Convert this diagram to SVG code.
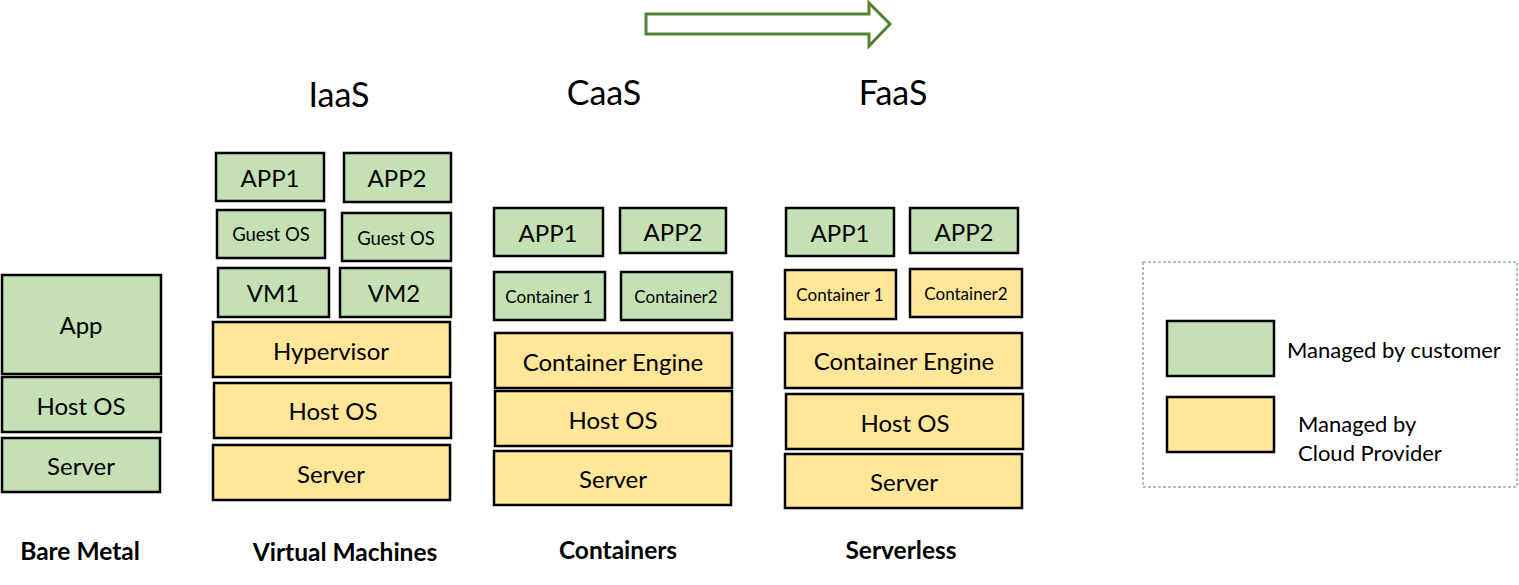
<svg xmlns="http://www.w3.org/2000/svg" width="1519" height="585" viewBox="0 0 1519 585">
<style>
.g{fill:#C5E0B4;stroke:#000;stroke-width:2.5}
.y{fill:#FFE699;stroke:#000;stroke-width:2.5}
text{font-family:Lato,"Liberation Sans",sans-serif;fill:#000}
.t{font-size:24px;text-anchor:middle;dominant-baseline:central}
.s{font-size:18.5px;text-anchor:middle;dominant-baseline:central}
.xs{font-size:17px;text-anchor:middle;dominant-baseline:central}
.h{font-size:34px;text-anchor:middle}
.b{font-size:24.5px;font-weight:bold;text-anchor:middle}
.l{font-size:22px}
</style>
<rect width="1519" height="585" fill="#fff"/>
<g id="connectors">
<path d="M646,14 H869 V3 L890,24 L869,46 V34 H646 Z" fill="#fff" stroke="#548235" stroke-width="3" stroke-linejoin="miter"/>
</g>
<g id="headers">
<text class="h" x="339" y="107">IaaS</text>
<text class="h" x="604" y="105">CaaS</text>
<text class="h" x="893" y="105">FaaS</text>
</g>
<g id="bare-metal">
<g id="bm-app"><rect class="g" x="2" y="275" width="159" height="99"/><text class="t" x="81" y="324">App</text></g>
<g id="bm-hostos"><rect class="g" x="2" y="377" width="159" height="55"/><text class="t" x="81" y="405">Host OS</text></g>
<g id="bm-server"><rect class="g" x="2" y="438" width="158" height="54"/><text class="t" x="81" y="465">Server</text></g>
<text class="b" x="80" y="560">Bare Metal</text>
</g>
<g id="vm">
<g id="vm-app1"><rect class="g" x="216" y="153" width="108" height="48"/><text class="t" x="270" y="177">APP1</text></g>
<g id="vm-app2"><rect class="g" x="344" y="153" width="107" height="49"/><text class="t" x="397" y="177">APP2</text></g>
<g id="vm-guest1"><rect class="g" x="217" y="210" width="108" height="48"/><text class="s" x="271" y="234">Guest OS</text></g>
<g id="vm-guest2"><rect class="g" x="342" y="213" width="109" height="48"/><text class="s" x="396" y="238">Guest OS</text></g>
<g id="vm-vm1"><rect class="g" x="218" y="268" width="111" height="49"/><text class="t" x="273" y="292">VM1</text></g>
<g id="vm-vm2"><rect class="g" x="340" y="268" width="111" height="49"/><text class="t" x="394" y="292">VM2</text></g>
<g id="vm-hyper"><rect class="y" x="213" y="322" width="237" height="55"/><text class="t" x="331" y="350">Hypervisor</text></g>
<g id="vm-hostos"><rect class="y" x="214" y="383" width="237" height="55"/><text class="t" x="333" y="410">Host OS</text></g>
<g id="vm-server"><rect class="y" x="213" y="445" width="237" height="55"/><text class="t" x="331" y="473">Server</text></g>
<text class="b" x="345" y="561">Virtual Machines</text>
</g>
<g id="containers">
<g id="c-app1"><rect class="g" x="494" y="208" width="109" height="48"/><text class="t" x="548" y="232">APP1</text></g>
<g id="c-app2"><rect class="g" x="620" y="208" width="106" height="45"/><text class="t" x="673" y="231">APP2</text></g>
<g id="c-cont1"><rect class="g" x="494" y="272" width="111" height="48"/><text class="xs" x="549" y="296">Container 1</text></g>
<g id="c-cont2"><rect class="g" x="621" y="272" width="111" height="48"/><text class="xs" x="676" y="296">Container2</text></g>
<g id="c-engine"><rect class="y" x="495" y="333" width="237" height="55"/><text class="t" x="613" y="361">Container Engine</text></g>
<g id="c-hostos"><rect class="y" x="495" y="391" width="237" height="55"/><text class="t" x="613" y="419">Host OS</text></g>
<g id="c-server"><rect class="y" x="494" y="451" width="237" height="54"/><text class="t" x="613" y="478">Server</text></g>
<text class="b" x="618" y="559">Containers</text>
</g>
<g id="serverless">
<g id="f-app1"><rect class="g" x="786" y="208" width="108" height="48"/><text class="t" x="840" y="232">APP1</text></g>
<g id="f-app2"><rect class="g" x="910" y="208" width="108" height="45"/><text class="t" x="964" y="231">APP2</text></g>
<g id="f-cont1"><rect class="y" x="785" y="270" width="111" height="49"/><text class="xs" x="840" y="294">Container 1</text></g>
<g id="f-cont2"><rect class="y" x="910" y="269" width="112" height="48"/><text class="xs" x="966" y="293">Container2</text></g>
<g id="f-engine"><rect class="y" x="785" y="333" width="237" height="55"/><text class="t" x="904" y="360">Container Engine</text></g>
<g id="f-hostos"><rect class="y" x="786" y="394" width="237" height="55"/><text class="t" x="905" y="422">Host OS</text></g>
<g id="f-server"><rect class="y" x="785" y="454" width="237" height="54"/><text class="t" x="904" y="481">Server</text></g>
<text class="b" x="901" y="559">Serverless</text>
</g>
<g id="legend">
<rect x="1143" y="262" width="374" height="225" fill="none" stroke="#5B7EA4" stroke-width="1" stroke-dasharray="3,2"/>
<rect class="g" x="1167" y="321" width="107" height="55"/>
<rect class="y" x="1167" y="397" width="107" height="55"/>
<text class="l" x="1287" y="358">Managed by customer</text>
<text class="l" x="1298" y="432">Managed by</text>
<text class="l" x="1298" y="461">Cloud Provider</text>
</g>
</svg>
